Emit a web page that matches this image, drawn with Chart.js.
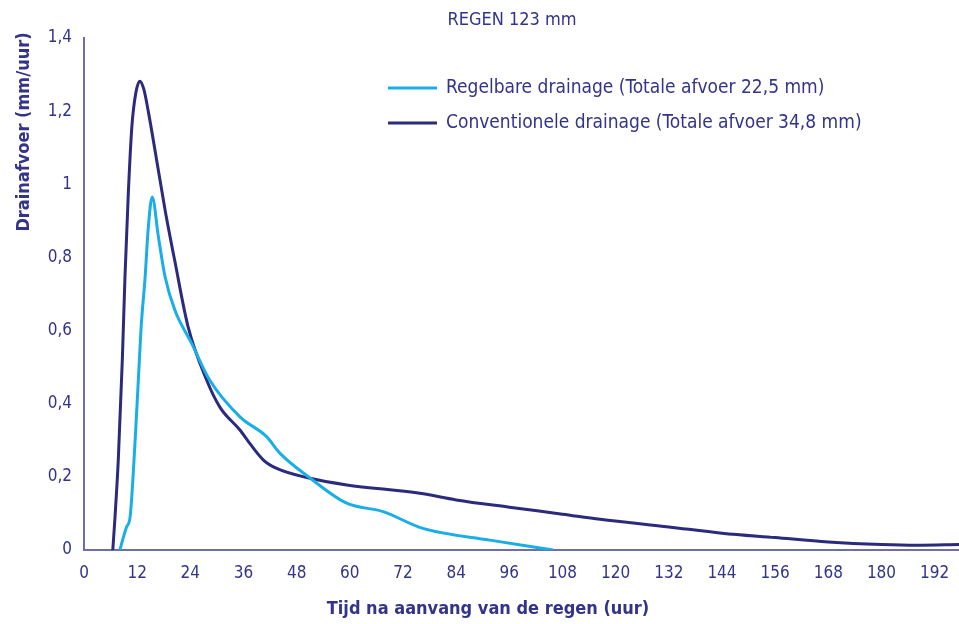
<!DOCTYPE html>
<html>
<head>
<meta charset="utf-8">
<script src="https://cdn.jsdelivr.net/npm/chart.js@4/dist/chart.umd.min.js"></script>
<style>
  html, body { margin: 0; padding: 0; background: #fff; }
  #wrap { width: 959px; height: 624px; position: relative; }
</style>
</head>
<body>
<div id="wrap"><canvas id="lineChart"></canvas></div>
<script>
// Afvoer per uur
const convHours = [6.5, 7.0, 7.75, 8.65, 9.25, 10.0, 10.8, 11.7, 12.6, 13.5, 14.5, 16.4, 18.3, 20.5, 23.5, 27.7, 30.7, 35.2, 37.5, 40.5, 43.5, 51, 59.3, 75.8, 84, 96, 108, 116.5, 132, 144, 156, 168, 180, 188, 197.5];
const convFlow  = [0, 0.09, 0.25, 0.52, 0.747, 0.975, 1.157, 1.25, 1.282, 1.26, 1.2, 1.066, 0.93, 0.79, 0.61, 0.464, 0.39, 0.328, 0.29, 0.246, 0.223, 0.196, 0.178, 0.155, 0.137, 0.117, 0.098, 0.084, 0.063, 0.046, 0.034, 0.022, 0.015, 0.013, 0.015];

const regHours = [8.1, 9.6, 10.4, 11.5, 12.5, 12.9, 13.8, 14.5, 15.4, 16.8, 18.3, 20.5, 24.3, 28.4, 35.2, 41.2, 44.2, 51, 59.3, 67.5, 76.5, 91.6, 105.9];
const regFlow  = [0, 0.063, 0.09, 0.29, 0.52, 0.61, 0.747, 0.88, 0.965, 0.856, 0.747, 0.656, 0.565, 0.464, 0.364, 0.31, 0.265, 0.197, 0.128, 0.105, 0.059, 0.027, 0];

const seriesLabels = ['Regelbare drainage (Totale afvoer 22,5 mm)', 'Conventionele drainage (Totale afvoer 34,8 mm)'];
const chartTitle = 'REGEN 123 mm';
const xTitle = 'Tijd na aanvang van de regen (uur)';
const yTitle = 'Drainafvoer (mm/uur)';
const xTickValues = [0, 12, 24, 36, 48, 60, 72, 84, 96, 108, 120, 132, 144, 156, 168, 180, 192];
const yTickLabels = ['0', '0,2', '0,4', '0,6', '0,8', '1', '1,2', '1,4'];

const NAVY = '#2b2a7c';
const CYAN = '#1aaee6';
const TEXT = '#33338a';
const AXIS = '#6e6eaa';
const FONT = '"DejaVu Sans Condensed", "DejaVu Sans", sans-serif';

const toPoints = (xs, ys) => xs.map((x, i) => ({ x, y: ys[i] }));

// titels en legenda op vaste plek tekenen
const decorations = {
    id: 'decorations',
    afterDraw(chart) {
        const ctx = chart.ctx;
        ctx.save();
        ctx.fillStyle = TEXT;
        ctx.textBaseline = 'middle';

        ctx.font = '18px ' + FONT;
        ctx.textAlign = 'center';
        ctx.fillText(chartTitle, 512, 20);

        ctx.font = 'bold 18px ' + FONT;
        ctx.fillText(xTitle, 488, 609);

        ctx.save();
        ctx.translate(24, 132);
        ctx.rotate(-Math.PI / 2);
        ctx.fillText(yTitle, 0, 0);
        ctx.restore();

        // legenda
        ctx.font = '19px ' + FONT;
        ctx.textAlign = 'left';
        const rows = [88, 123];
        chart.data.datasets.slice().sort((a, b) => a.legendIndex - b.legendIndex).forEach((ds, i) => {
            ctx.strokeStyle = ds.borderColor;
            ctx.lineWidth = 3;
            ctx.beginPath();
            ctx.moveTo(388, rows[i]);
            ctx.lineTo(437, rows[i]);
            ctx.stroke();
            ctx.fillStyle = TEXT;
            ctx.fillText(ds.label, 446, rows[i]);
        });
        ctx.restore();
    }
};

function initChart() {
    const ctx = document.getElementById('lineChart').getContext('2d');
    Chart.defaults.font.family = FONT;
    Chart.defaults.color = TEXT;

    new Chart(ctx, {
        type: 'line',
        data: {
            datasets: [
                {
                    label: seriesLabels[1],
                    legendIndex: 1,
                    data: toPoints(convHours, convFlow),
                    borderColor: NAVY,
                    borderWidth: 3,
                    pointRadius: 0,
                    fill: false,
                    cubicInterpolationMode: 'monotone',
                    order: 2
                },
                {
                    label: seriesLabels[0],
                    legendIndex: 0,
                    data: toPoints(regHours, regFlow),
                    borderColor: CYAN,
                    borderWidth: 3,
                    pointRadius: 0,
                    fill: false,
                    cubicInterpolationMode: 'monotone',
                    order: 1
                }
            ]
        },
        options: {
            responsive: true,
            maintainAspectRatio: false,
            animation: false,
            layout: { padding: { top: 38, right: 0, left: 0, bottom: 0 } },
            plugins: {
                legend: { display: false },
                title: { display: false },
                tooltip: { enabled: false }
            },
            scales: {
                x: {
                    type: 'linear',
                    min: 0,
                    max: 197.5,
                    grid: { display: false, drawTicks: false },
                    border: { color: AXIS, width: 2 },
                    ticks: {
                        padding: 13,
                        color: TEXT,
                        font: { size: 17 },
                        maxRotation: 0,
                        autoSkip: false
                    },
                    afterBuildTicks(scale) {
                        scale.ticks = xTickValues.map(v => ({ value: v }));
                    },
                    afterFit(scale) {
                        scale.height = 74;
                        scale.paddingLeft = 0;
                        scale.paddingRight = 0;
                    }
                },
                y: {
                    min: 0,
                    max: 1.4,
                    grid: { display: false, drawTicks: false },
                    border: { color: AXIS, width: 2 },
                    ticks: {
                        stepSize: 0.2,
                        padding: 12,
                        color: TEXT,
                        font: { size: 17 },
                        callback: (v, i) => yTickLabels[i]
                    },
                    afterFit(scale) {
                        scale.width = 84;
                        scale.paddingTop = 0;
                        scale.paddingBottom = 0;
                    }
                }
            }
        },
        plugins: [decorations]
    });
}

window.addEventListener('DOMContentLoaded', initChart);
</script>
</body>
</html>
